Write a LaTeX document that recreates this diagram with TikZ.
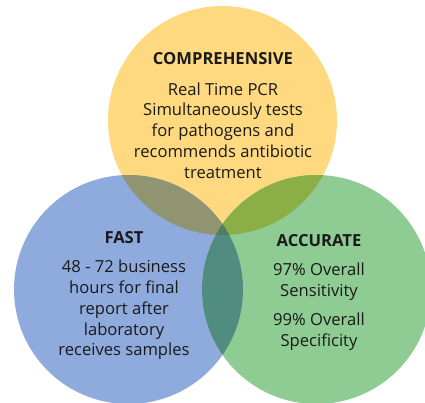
\documentclass[tikz,border=0pt]{standalone}
\usepackage{fontspec}
\setmainfont{Open Sans}
\definecolor{cyel}{HTML}{FFD97F}
\definecolor{cblu}{HTML}{8FAADC}
\definecolor{cgrn}{HTML}{8ECC93}
\definecolor{cyb}{HTML}{909470}
\definecolor{cyg}{HTML}{8BAE46}
\definecolor{cbg}{HTML}{508C80}
\definecolor{cybg}{HTML}{4F7F5C}
\definecolor{ctxt}{HTML}{1A1A1A}
\begin{document}
\begin{tikzpicture}[x=1pt,y=-1pt,
  head/.style={font=\fontsize{16.6}{20.8}\selectfont\bfseries, text=ctxt, inner sep=0pt},
  body/.style={font=\fontsize{16.6}{20.8}\selectfont, text=ctxt, align=center, inner sep=0pt}]
\useasboundingbox (0,0) rectangle (425,402);
\def\Y{(222.5,120.5) circle[radius=114.5]}
\def\B{(128.5,289.5) circle[radius=114.5]}
\def\G{(316.5,289.5) circle[radius=114.5]}
\fill[cyel] \Y;
\fill[cblu] \B;
\fill[cgrn] \G;
\begin{scope}\clip \Y; \fill[cyb] \B; \end{scope}
\begin{scope}\clip \Y; \fill[cyg] \G; \end{scope}
\begin{scope}\clip \B; \fill[cbg] \G; \end{scope}
\begin{scope}\clip \Y; \clip \B; \fill[cybg] \G; \end{scope}
\node[head] (ch) at (223,59) {COMPREHENSIVE};
\node[body] (cb) at (223,130.5) {Real Time PCR\\Simultaneously tests\\for pathogens and\\recommends antibiotic\\treatment};
\node[head] (fh) at (124,238) {FAST};
\node[body] (fb) at (124,310) {48 - 72 business\\hours for final\\report after\\laboratory\\receives samples};
\node[head] (ah) at (319,241) {ACCURATE};
\node[body] (ab1) at (319,282) {97\% Overall\\Sensitivity};
\node[body] (ab2) at (319,331.5) {99\% Overall\\Specificity};
\end{tikzpicture}
\end{document}
